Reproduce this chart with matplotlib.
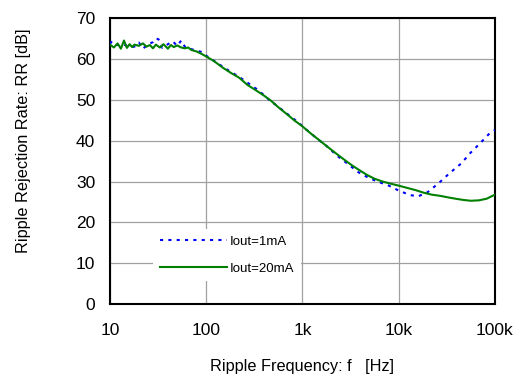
import matplotlib
matplotlib.use("Agg")
import matplotlib.pyplot as plt
from matplotlib.ticker import FixedLocator, FixedFormatter, NullLocator

plt.rcParams["font.family"] = ["Liberation Sans", "DejaVu Sans"]

# Iout = 20 mA (green)
freq_20 = [10, 11, 12, 13, 14, 15, 16, 17, 18, 20, 22, 24, 26, 28, 30, 33, 36,
           40, 43, 46, 50, 55, 60, 65, 70, 80, 90, 100, 120, 150, 180, 220, 270,
           330, 400, 470, 560, 680, 820, 1000, 1200, 1500, 1800, 2200, 2700,
           3300, 3900, 4700, 5600, 6800, 8200, 10000, 12000, 15000, 18000,
           22000, 27000, 33000, 39000, 47000, 56000, 68000, 82000, 100000]
rr_20 = [63.5, 62.8, 63.8, 62.5, 64.5, 62.7, 63.6, 62.9, 63.5, 63.2, 63.8, 63.0,
         63.4, 62.6, 63.5, 62.8, 63.6, 62.5, 63.4, 62.9, 63.3, 62.8, 62.6, 62.8,
         62.2, 61.8, 61.2, 60.6, 59.5, 57.8, 56.6, 55.4, 53.6, 52.3, 51.0, 49.8,
         48.2, 46.6, 45.0, 43.5, 41.9, 40.1, 38.6, 37.0, 35.4, 33.9, 32.8, 31.6,
         30.7, 30.0, 29.5, 29.0, 28.5, 27.9, 27.3, 26.8, 26.5, 26.1, 25.8, 25.5,
         25.3, 25.4, 25.8, 26.8]

# Iout = 1 mA (blue)
freq_1 = [10, 10.5, 12, 14, 16, 18, 20, 22, 25, 28, 30, 32, 35, 40, 45, 50, 55,
          60, 70, 80, 90, 100, 130, 170, 220, 280, 350, 450, 560, 700, 900,
          1100, 1400, 1800, 2300, 3000, 3800, 4800, 6000, 7600, 9800, 13000,
          16000, 20000, 26000, 34000, 45000, 55000, 71000, 88000, 100000]
rr_1 = [63.7, 64.3, 63.4, 63.5, 62.9, 63.0, 64.0, 62.5, 63.6, 64.1, 65.0, 64.8,
        62.7, 63.6, 64.3, 63.2, 64.5, 63.0, 62.4, 62.0, 61.7, 60.8, 59.0, 57.2,
        55.6, 53.9, 52.3, 50.0, 48.3, 46.5, 44.5, 42.7, 40.6, 38.6, 36.3, 34.2,
        32.3, 31.0, 30.0, 29.2, 27.9, 26.7, 26.4, 27.4, 29.6, 32.1, 34.5, 36.9,
        39.5, 41.8, 42.6]

x_ticks = [10, 100, 1000, 10000, 100000]
x_labels = ["10", "100", "1k", "10k", "100k"]
y_ticks = [0, 10, 20, 30, 40, 50, 60, 70]

fig = plt.figure(figsize=(5.21, 3.76), dpi=100)
ax = fig.add_axes([0.211, 0.191, 0.739, 0.761])

ax.plot(freq_1, rr_1, color="#0000ff", linewidth=1.5,
        linestyle=(0, (1.5, 2.5)), label="Iout=1mA", zorder=3)
ax.plot(freq_20, rr_20, color="#008000", linewidth=1.5, label="Iout=20mA",
        zorder=4)

ax.set_xscale("log")
ax.set_xlim(10, 100000)
ax.set_ylim(0, 70)
ax.xaxis.set_major_locator(FixedLocator(x_ticks))
ax.xaxis.set_major_formatter(FixedFormatter(x_labels))
ax.xaxis.set_minor_locator(NullLocator())
ax.set_yticks(y_ticks)
ax.tick_params(axis="y", length=0, labelsize=12.5, pad=10.5)
ax.tick_params(axis="x", length=0, labelsize=12.5, pad=13.5)

ax.grid(True, color="#a0a0a0", linewidth=0.9)
ax.set_axisbelow(True)
for spine in ax.spines.values():
    spine.set_color("black")
    spine.set_linewidth(1.5)

ax.set_xlabel("Ripple Frequency: f   [Hz]", fontsize=11.7)
ax.set_ylabel("Ripple Rejection Rate: RR [dB]", fontsize=11.7)
ax.xaxis.set_label_coords(0.5, -0.19)
ax.yaxis.set_label_coords(-0.205, 0.57)

leg = ax.legend(loc="center left", bbox_to_anchor=(0.112, 0.171),
                frameon=True, fontsize=9.5, handlelength=5.1,
                handletextpad=0.25, borderpad=0.5, borderaxespad=0,
                labelspacing=1.1)
leg.get_frame().set_edgecolor("none")
leg.get_frame().set_facecolor("white")
leg.get_frame().set_alpha(1.0)
leg.get_frame().set_boxstyle("square", pad=0)

fig.savefig("out.png", dpi=100, facecolor="white")
